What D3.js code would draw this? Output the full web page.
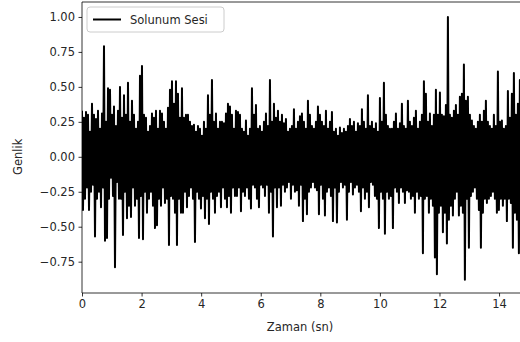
<!DOCTYPE html>
<html>
<head>
<meta charset="utf-8">
<script src="https://cdn.jsdelivr.net/npm/d3@7"></script>
<style>
  body { margin: 0; background: #fff; }
  svg { display: block; font-family: "DejaVu Sans", sans-serif; }
</style>
</head>
<body>
<svg></svg>
<script>
var WIDTH = 520;
var HEIGHT = 342;

// sampling interval of the signal (seconds)
var DT = 0.03356;
var seriesName = 'Solunum Sesi';
var xTicks = [0, 2, 4, 6, 8, 10, 12, 14];
var yTicks = [-0.75, -0.5, -0.25, 0, 0.25, 0.5, 0.75, 1.0];

// amplitude
var signal = [
  0.33,-0.38,0.28,-0.30,0.32,-0.22,0.30,-0.38,0.18,-0.25,
  0.38,-0.20,0.30,-0.57,0.27,-0.30,0.33,-0.25,0.20,-0.36,
  0.31,-0.22,0.79,-0.60,0.25,-0.58,0.49,-0.30,0.48,-0.15,
  0.30,-0.28,0.36,-0.79,0.22,-0.18,0.33,-0.30,0.50,-0.30,
  0.28,-0.56,0.44,-0.25,0.30,-0.44,0.53,-0.35,0.25,-0.43,
  0.40,-0.22,0.30,-0.35,0.20,-0.30,0.25,-0.58,0.58,-0.28,
  0.65,-0.59,0.30,-0.25,0.28,-0.40,0.18,-0.30,0.22,-0.25,
  0.31,-0.35,0.28,-0.51,0.33,-0.49,0.20,-0.30,0.33,-0.35,
  0.31,-0.22,0.25,-0.33,0.20,-0.30,0.35,-0.63,0.48,-0.28,
  0.54,-0.30,0.38,-0.40,0.54,-0.63,0.45,-0.30,0.28,-0.40,
  0.49,-0.40,0.28,-0.25,0.30,-0.36,0.30,-0.28,0.25,-0.22,
  0.22,-0.30,0.23,-0.61,0.18,-0.25,0.22,-0.30,0.20,-0.37,
  0.15,-0.28,0.25,-0.44,0.20,-0.30,0.44,-0.48,0.30,-0.25,
  0.55,-0.30,0.25,-0.40,0.31,-0.28,0.20,-0.25,0.25,-0.36,
  0.25,-0.22,0.24,-0.30,0.31,-0.36,0.38,-0.28,0.36,-0.40,
  0.30,-0.22,0.20,-0.28,0.33,-0.28,0.32,-0.22,0.30,-0.39,
  0.20,-0.25,0.18,-0.28,0.26,-0.22,0.15,-0.30,0.20,-0.37,
  0.49,-0.20,0.30,-0.22,0.37,-0.30,0.20,-0.36,0.22,-0.20,
  0.18,-0.22,0.25,-0.28,0.31,-0.20,0.22,-0.40,0.55,-0.25,
  0.25,-0.57,0.38,-0.22,0.28,-0.36,0.33,-0.22,0.25,-0.35,
  0.30,-0.20,0.24,-0.25,0.27,-0.22,0.18,-0.18,0.20,-0.30,
  0.22,-0.20,0.34,-0.25,0.20,-0.24,0.25,-0.35,0.29,-0.20,
  0.31,-0.46,0.25,-0.30,0.20,-0.41,0.40,-0.25,0.30,-0.22,
  0.22,-0.18,0.20,-0.22,0.25,-0.24,0.36,-0.41,0.30,-0.20,
  0.25,-0.30,0.22,-0.42,0.33,-0.25,0.20,-0.22,0.25,-0.28,
  0.32,-0.46,0.18,-0.22,0.20,-0.47,0.15,-0.25,0.21,-0.18,
  0.17,-0.22,0.20,-0.20,0.18,-0.45,0.22,-0.25,0.27,-0.18,
  0.22,-0.27,0.25,-0.22,0.18,-0.20,0.24,-0.25,0.22,-0.39,
  0.34,-0.22,0.25,-0.30,0.20,-0.25,0.44,-0.36,0.22,-0.18,
  0.25,-0.20,0.20,-0.28,0.24,-0.30,0.18,-0.51,0.42,-0.25,
  0.25,-0.30,0.53,-0.55,0.30,-0.25,0.22,-0.30,0.20,-0.28,
  0.20,-0.51,0.25,-0.22,0.31,-0.25,0.20,-0.33,0.24,-0.22,
  0.38,-0.25,0.22,-0.33,0.20,-0.24,0.40,-0.25,0.25,-0.30,
  0.22,-0.28,0.28,-0.40,0.33,-0.25,0.20,-0.30,0.25,-0.28,
  0.30,-0.69,0.54,-0.30,0.45,-0.28,0.25,-0.40,0.31,-0.30,
  0.22,-0.35,0.30,-0.72,0.48,-0.84,0.30,-0.40,0.46,-0.35,
  0.30,-0.54,0.29,-0.40,0.37,-0.62,1.00,-0.45,0.30,-0.35,
  0.28,-0.42,0.33,-0.30,0.37,-0.25,0.30,-0.42,0.43,-0.35,
  0.45,-0.40,0.66,-0.88,0.40,-0.30,0.43,-0.65,0.30,-0.28,
  0.26,-0.25,0.22,-0.22,0.20,-0.30,0.25,-0.38,0.30,-0.65,
  0.25,-0.40,0.33,-0.30,0.40,-0.33,0.25,-0.30,0.22,-0.28,
  0.20,-0.25,0.30,-0.30,0.22,-0.40,0.61,-0.38,0.25,-0.30,
  0.26,-0.35,0.20,-0.30,0.22,-0.46,0.47,-0.30,0.28,-0.33,
  0.45,-0.65,0.60,-0.40,0.30,-0.45,0.38,-0.69,0.55,-0.40
];

var LEFT = 82, TOP = 2, BOTTOM = 293;

var svg = d3.select('svg')
  .attr('width', WIDTH)
  .attr('height', HEIGHT);

var xScale = d3.scaleLinear()
  .domain([0, 15])
  .range([LEFT, LEFT + 15 * 29.79]);

var yScale = d3.scaleLinear()
  .domain([-0.974, 1.107])
  .range([BOTTOM, TOP]);

svg.append('defs').append('clipPath')
  .attr('id', 'plot-clip')
  .append('rect')
  .attr('x', LEFT)
  .attr('y', TOP)
  .attr('width', WIDTH - LEFT)
  .attr('height', BOTTOM - TOP);

var line = d3.line()
  .x(function(d, i){ return xScale(i * DT); })
  .y(function(d){ return yScale(d); });

svg.append('path')
  .datum(signal)
  .attr('clip-path', 'url(#plot-clip)')
  .attr('fill', 'none')
  .attr('stroke', '#000')
  .attr('stroke-width', 2)
  .attr('stroke-linejoin', 'round')
  .attr('d', line);

var fmt = function(v){
  return d3.format('.2f')(v).replace('-', '\u2212');
};

var botAxis = d3.axisBottom(xScale)
  .tickValues(xTicks)
  .tickSize(3.5)
  .tickPadding(3.5)
  .tickFormat(d3.format('d'));
var gx = svg.append('g')
  .attr('transform', 'translate(0,' + BOTTOM + ')')
  .call(botAxis);

var leftAxis = d3.axisLeft(yScale)
  .tickValues(yTicks)
  .tickSize(3.5)
  .tickPadding(3.5)
  .tickFormat(fmt);
var gy = svg.append('g')
  .attr('transform', 'translate(' + LEFT + ',0)')
  .call(leftAxis);

[gx, gy].forEach(function(g){
  g.select('.domain').remove();
  g.selectAll('line').attr('stroke', '#000').attr('stroke-width', 0.8);
  g.selectAll('text')
    .attr('fill', '#262626')
    .style('font-size', '11.5px')
    .style('font-family', 'DejaVu Sans');
});

// spines: left, bottom, top (right one sits outside the picture)
svg.append('path')
  .attr('d', 'M' + WIDTH + ',' + TOP + 'H' + LEFT + 'V' + BOTTOM + 'H' + WIDTH)
  .attr('fill', 'none')
  .attr('stroke', '#000')
  .attr('stroke-width', 0.8);

svg.append('text')
  .attr('x', 300)
  .attr('y', 331)
  .attr('text-anchor', 'middle')
  .attr('fill', '#262626')
  .style('font-size', '11.5px')
  .text('Zaman (sn)');

svg.append('text')
  .attr('transform', 'translate(22,' + yScale(0) + ') rotate(-90)')
  .attr('text-anchor', 'middle')
  .attr('fill', '#262626')
  .style('font-size', '11.5px')
  .text('Genlik');

// legend
var legend = svg.append('g').attr('transform', 'translate(87,7)');
legend.append('rect')
  .attr('width', 137)
  .attr('height', 25)
  .attr('rx', 3)
  .attr('fill', '#fff')
  .attr('fill-opacity', 0.8)
  .attr('stroke', '#ccc')
  .attr('stroke-width', 1);
legend.append('line')
  .attr('x1', 6).attr('x2', 34)
  .attr('y1', 12.5).attr('y2', 12.5)
  .attr('stroke', '#000')
  .attr('stroke-width', 2);
legend.append('text')
  .attr('x', 43)
  .attr('y', 16.5)
  .attr('fill', '#262626')
  .style('font-size', '11.5px')
  .text(seriesName);
</script>
</body>
</html>
